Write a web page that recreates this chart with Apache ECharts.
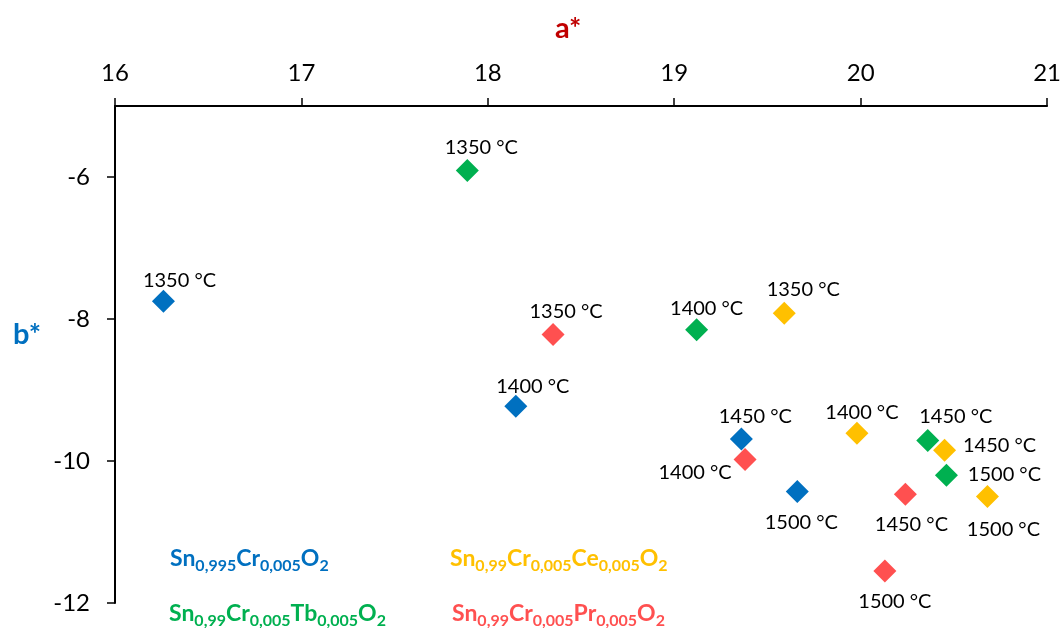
<!DOCTYPE html>
<html>
<head>
<meta charset="utf-8">
<script src="https://cdn.jsdelivr.net/npm/echarts@6/dist/echarts.min.js"></script>
<style>
html,body{margin:0;padding:0;background:#fff;}
#chart{width:1064px;height:628px;}
</style>
</head>
<body>
<div id="chart"></div>
<script>
// ---- data ----
const temperatures = ['1350 °C', '1400 °C', '1450 °C', '1500 °C'];
const xTicks = [16, 17, 18, 19, 20, 21];
const yTicks = [-12, -10, -8, -6];

const seriesNames = ['Sn0,995Cr0,005O2', 'Sn0,99Cr0,005Tb0,005O2', 'Sn0,99Cr0,005Ce0,005O2', 'Sn0,99Cr0,005Pr0,005O2'];

const aCr   = [16.26, 18.15, 19.36, 19.66];
const bCr   = [-7.75, -9.23, -9.69, -10.43];
const aTb   = [17.89, 19.12, 20.36, 20.46];
const bTb   = [-5.91, -8.15, -9.71, -10.20];
const aCe   = [19.59, 19.98, 20.45, 20.68];
const bCe   = [-7.92, -9.61, -9.85, -10.50];
const aPr   = [18.35, 19.38, 20.24, 20.13];
const bPr   = [-8.22, -9.98, -10.47, -11.55];

// ---- layout / style (not data) ----
const colors = ['#0070C0', '#00B050', '#FFC000', '#FF5050'];
const labelOffsets = [
  [[16,-21],[17,-20],[14,-22],[4,31]],
  [[14,-23],[10,-21],[28,-24],[58,-1]],
  [[19,-24],[5,-21],[55,-5],[16,33]],
  [[13,-23],[-50,13],[6,30],[10,30]]
];
const aSets = [aCr, aTb, aCe, aPr];
const bSets = [bCr, bTb, bCe, bPr];

const FONT = 'Lato, "Open Sans", sans-serif';

const series = aSets.map((aArr, si) => ({
  name: seriesNames[si],
  type: 'scatter',
  symbol: 'diamond',
  symbolSize: 23,
  itemStyle: { color: colors[si], opacity: 1 },
  data: aArr.map((a, i) => ({
    value: [a, bSets[si][i]],
    label: {
      show: true,
      formatter: temperatures[i],
      position: 'inside',
      offset: labelOffsets[si][i],
      color: '#000',
      fontSize: 20,
      fontFamily: FONT
    }
  })),
  z: 3
}));

function legendText(parts) {
  return parts.map(p => p[1] ? '{s|' + p[0] + '}' : '{m|' + p[0] + '}').join('');
}
function legendRich(color) {
  return {
    m: { fontSize: 23, fontWeight: 'bold', fill: color, fontFamily: FONT, lineHeight: 27, verticalAlign: 'top' },
    s: { fontSize: 16, fontWeight: 'bold', fill: color, fontFamily: FONT, lineHeight: 9, verticalAlign: 'bottom' }
  };
}
const legendParts = [
  [['Sn',0],['0,995',1],['Cr',0],['0,005',1],['O',0],['2',1]],
  [['Sn',0],['0,99',1],['Cr',0],['0,005',1],['Tb',0],['0,005',1],['O',0],['2',1]],
  [['Sn',0],['0,99',1],['Cr',0],['0,005',1],['Ce',0],['0,005',1],['O',0],['2',1]],
  [['Sn',0],['0,99',1],['Cr',0],['0,005',1],['Pr',0],['0,005',1],['O',0],['2',1]]
];
const legendPos = [[170, 547], [169, 602], [450, 547], [452, 602]];

const chart = echarts.init(document.getElementById('chart'), null, { renderer: 'canvas' });
chart.setOption({
  backgroundColor: '#fff',
  animation: false,
  grid: { left: 115, right: 15, top: 106, bottom: 25, containLabel: false },
  xAxis: {
    type: 'value',
    position: 'top',
    min: xTicks[0],
    max: xTicks[xTicks.length - 1],
    interval: 1,
    axisLine: { show: true, onZero: false, lineStyle: { color: '#000', width: 2 } },
    axisTick: { show: true, inside: false, length: 8, lineStyle: { color: '#000', width: 1.5 } },
    splitLine: { show: false },
    axisLabel: { color: '#000', fontSize: 24, fontFamily: FONT, margin: 21 }
  },
  yAxis: {
    type: 'value',
    min: yTicks[0],
    max: -5,
    interval: 2,
    axisLine: { show: true, onZero: false, lineStyle: { color: '#000', width: 2 } },
    axisTick: { show: true, inside: false, length: 8, lineStyle: { color: '#000', width: 1.5 } },
    splitLine: { show: false },
    axisLabel: {
      color: '#000', fontSize: 24, fontFamily: FONT, margin: 25,
      showMaxLabel: false,
      formatter: v => (yTicks.indexOf(v) >= 0 ? String(v) : '')
    }
  },
  graphic: [
    { type: 'text', left: 555, top: 14, style: { text: 'a*', fill: '#C00000', font: 'bold 29px ' + FONT } },
    { type: 'text', left: 13, top: 320, style: { text: 'b*', fill: '#0070C0', font: 'bold 29px ' + FONT } }
  ].concat(legendParts.map((parts, i) => ({
    type: 'text',
    left: legendPos[i][0],
    top: legendPos[i][1],
    style: {
      text: legendText(parts),
      rich: legendRich(colors[i])
    }
  }))),
  series: series
});
</script>
</body>
</html>
